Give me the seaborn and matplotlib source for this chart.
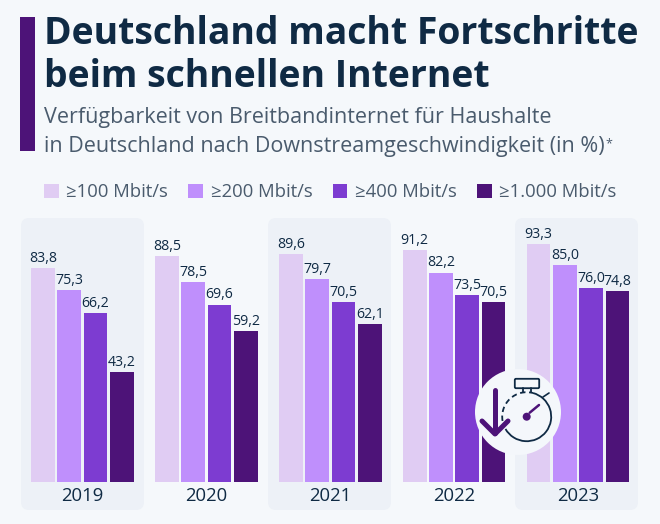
import pandas as pd
import numpy as np
import matplotlib.pyplot as plt
import seaborn as sns
from matplotlib.patches import FancyBboxPatch, Circle, Rectangle, Arc

years = ['2019', '2020', '2021', '2022', '2023']
speeds = ['≥100 Mbit/s', '≥200 Mbit/s', '≥400 Mbit/s', '≥1.000 Mbit/s']
v100 = [83.8, 88.5, 89.6, 91.2, 93.3]
v200 = [75.3, 78.5, 79.7, 82.2, 85.0]
v400 = [66.2, 69.6, 70.5, 73.5, 76.0]
v1000 = [43.2, 59.2, 62.1, 70.5, 74.8]
colors = ['#e0ccf3', '#bf8ffc', '#7d3cd1', '#4d1378']

BG = '#f5f8fb'
PANEL = '#edf1f7'
DARK = '#0f2a44'
GREY = '#4a5b6d'
W, H = 660, 524

df = pd.DataFrame({'year': years, speeds[0]: v100, speeds[1]: v200, speeds[2]: v400, speeds[3]: v1000})
df = df.melt(id_vars='year', var_name='speed', value_name='value')

sns.set_theme(style='white')
plt.rcParams['font.family'] = ['Open Sans', 'DejaVu Sans']

fig = plt.figure(figsize=(W / 100, H / 100), dpi=100, facecolor=BG)

# pixel layer behind the chart
bg = fig.add_axes([0, 0, 1, 1], zorder=0)
bg.set_xlim(0, W)
bg.set_ylim(H, 0)
bg.axis('off')
for x0 in [21, 268, 515]:
    bg.add_patch(FancyBboxPatch((x0 + 8, 226), 123 - 16, 276, boxstyle='round,pad=8',
                                fc=PANEL, ec='none'))
bg.add_patch(Rectangle((20, 17), 15, 134, fc='#4d1378', ec='none'))
bg.text(44, 44, 'Deutschland macht Fortschritte', fontsize=26.9, fontweight='bold', color=DARK, va='baseline')
bg.text(44, 87, 'beim schnellen Internet', fontsize=26.9, fontweight='bold', color=DARK, va='baseline')
bg.text(44, 123, 'Verfügbarkeit von Breitbandinternet für Haushalte', fontsize=15.5, color=GREY, va='baseline')
bg.text(44, 152, 'in Deutschland nach Downstreamgeschwindigkeit (in %)', fontsize=15.5, color=GREY, va='baseline')
bg.text(605, 147, '*', fontsize=9, color=GREY, va='baseline')

# chart
baseline = 481.7
top = 218
ax = fig.add_axes([20.5 / W, 1 - baseline / H, 619.5 / W, (baseline - top) / H], zorder=1)
ax.patch.set_alpha(0)
sns.barplot(data=df, x='year', y='value', hue='speed', palette=colors, width=0.85, gap=0.1,
            saturation=1, linewidth=0, ax=ax)
ax.set_ylim(0, (baseline - top) / 2.545)
ax.set_xlim(-0.5, 4.5)
ax.set_xlabel('')
ax.set_ylabel('')
ax.set_yticks([])
ax.tick_params(axis='x', length=0, pad=4, labelsize=13.3, labelcolor=DARK)
sns.despine(ax=ax, left=True, bottom=True)
for c in ax.containers:
    ax.bar_label(c, labels=[f'{v:.1f}'.replace('.', ',') for v in c.datavalues], padding=1.5,
                 fontsize=10.2, fontweight='medium', color=DARK)

handles, labels = ax.get_legend_handles_labels()
ax.legend(handles, labels, ncol=4, frameon=False, loc='center left',
          bbox_to_anchor=(0.0379, 1.098), fontsize=13.3, labelcolor=GREY,
          handlelength=0.8, handleheight=0.8, handletextpad=0.4, columnspacing=1.1, borderpad=0, borderaxespad=0)

# stopwatch icon on top
ic = fig.add_axes([0, 0, 1, 1], zorder=2)
ic.set_xlim(0, W)
ic.set_ylim(H, 0)
ic.axis('off')
ic.patch.set_alpha(0)
ic.add_patch(Circle((518, 412), 43, fc='#f4f7fb', ec='none'))
cx, cy = 526.7, 416.7
# y axis is flipped here, so arc angles run clockwise on screen
ic.add_patch(Arc((cx, cy), 49, 49, theta1=-75, theta2=150, ec=DARK, lw=1.3))
ic.add_patch(Arc((cx, cy), 49, 49, theta1=170, theta2=285, ec=DARK, lw=1.3, ls=(0, (3, 2))))
ic.add_patch(FancyBboxPatch((516, 380), 22, 7, boxstyle='round,pad=1.2', fc='none', ec=DARK, lw=1.3))
ic.plot([523, 523], [388, 392], color=DARK, lw=1.3)
ic.plot([531, 531], [388, 392], color=DARK, lw=1.3)
ic.plot([543, 549], [397, 393], color=DARK, lw=1.2)
ic.add_patch(Circle((cx, cy), 4, fc='#4d1378', ec='none'))
ic.plot([cx + 3, 539], [cy - 4, 405], color='#4d1378', lw=1.8)
ic.plot([495, 495], [390, 433], color='#4d1378', lw=3.6, solid_capstyle='round')
ic.plot([482, 495, 508], [421, 434, 421], color='#4d1378', lw=3.6, solid_capstyle='round', solid_joinstyle='round')

fig.savefig('out.png', dpi=100, facecolor=BG)
